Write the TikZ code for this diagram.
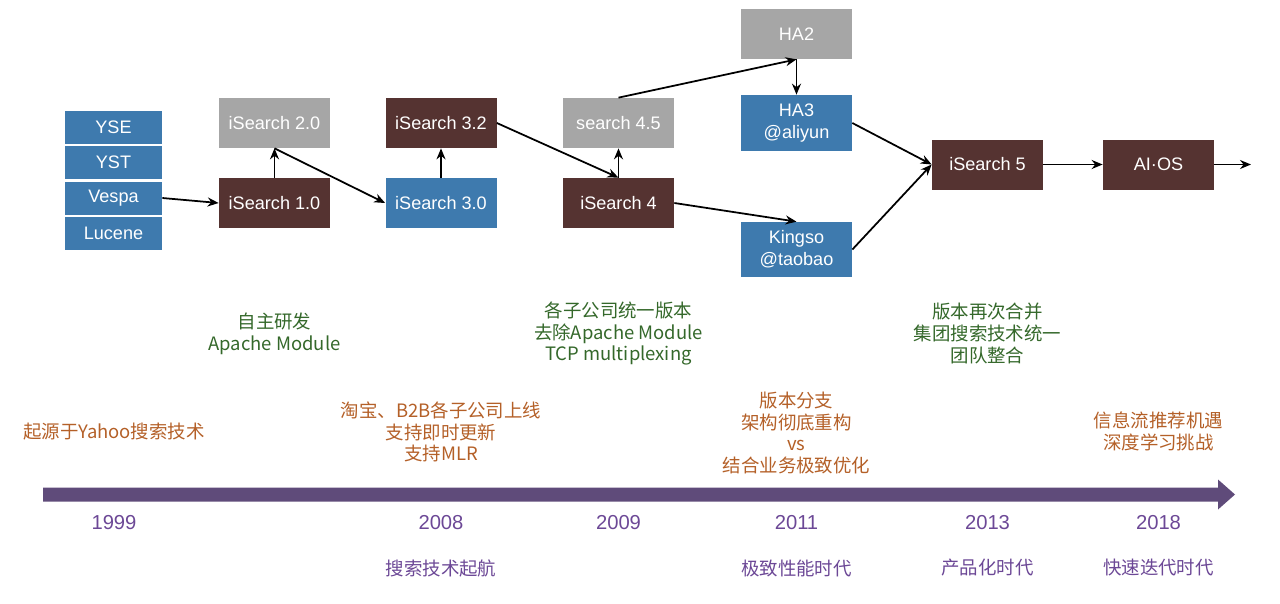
\documentclass[tikz,border=0pt]{standalone}
\usepackage{fontspec}
\setmainfont{Liberation Sans}
\newfontfamily\cjk{Noto Sans CJK SC}
\usetikzlibrary{arrows.meta}

\definecolor{boxblue}{RGB}{62,122,174}
\definecolor{boxbrown}{RGB}{85,51,49}
\definecolor{boxgray}{RGB}{166,166,166}
\definecolor{notegreen}{RGB}{52,104,42}
\definecolor{noteorange}{RGB}{180,96,40}
\definecolor{barpurple}{RGB}{95,75,122}
\definecolor{yearpurple}{RGB}{108,72,150}

\begin{document}
\begin{tikzpicture}[
    version/.style={rectangle, minimum width=2.22cm, minimum height=1cm, inner sep=1pt,
      align=center, text=white, font=\fontsize{10.3}{12.5}\selectfont},
    old version/.style={version, fill=boxgray},
    main version/.style={version, fill=boxbrown},
    branch version/.style={version, fill=boxblue},
    origin/.style={rectangle, fill=boxblue, text=white, minimum width=1.94cm,
      minimum height=0.66cm, inner sep=1pt, font=\fontsize{10.3}{12.5}\selectfont},
    flow/.style={-{Stealth[length=2.2mm, width=1.8mm]}, line width=1pt, black},
    tech note/.style={align=center, text=notegreen, font=\cjk\fontsize{10.5}{12.4}\selectfont},
    biz note/.style={align=center, text=noteorange, font=\cjk\fontsize{10.5}{12.4}\selectfont},
    year/.style={text=yearpurple, font=\fontsize{11.5}{13}\selectfont},
    era/.style={text=yearpurple, font=\cjk\fontsize{10.5}{12.5}\selectfont}
  ]
  \useasboundingbox (0,0) rectangle (25.6,-12.06);

  % Yahoo origins
  \node[origin] (Y-1) at (2.27,-2.54) {YSE};
  \node[origin] (Y-2) at (2.27,-3.25) {YST};
  \node[origin] (Y-3) at (2.27,-3.96) {Vespa};
  \node[origin] (Y-4) at (2.27,-4.67) {Lucene};

  % iSearch versions
  \node[old version] (S-20) at (5.49,-2.46) {iSearch 2.0};
  \node[main version] (S-10) at (5.49,-4.06) {iSearch 1.0};
  \node[main version] (S-32) at (8.82,-2.46) {iSearch 3.2};
  \node[branch version] (S-30) at (8.82,-4.06) {iSearch 3.0};
  \node[old version] (S-45) at (12.37,-2.46) {search 4.5};
  \node[main version] (S-4) at (12.37,-4.06) {iSearch 4};

  % Branches
  \node[old version] (HA2) at (15.93,-0.68) {HA2};
  \node[branch version, minimum height=1.12cm] (HA3) at (15.93,-2.46) {HA3\\@aliyun};
  \node[branch version, minimum height=1.1cm] (KS) at (15.93,-4.99) {Kingso\\@taobao};

  % Merged
  \node[main version] (S-5) at (19.75,-3.29) {iSearch 5};
  \node[main version] (AIOS) at (23.17,-3.29) {AI·OS};
  \coordinate (next) at (25.02,-3.29);

  % Connections
  \draw[flow] (Y-3.east) -- (S-10.west);
  \draw[flow] (S-10) -- (S-20);
  \draw[flow] (S-20.south) -- (S-30.west);
  \draw[flow] (S-30) -- (S-32);
  \draw[flow] (S-32.east) -- (S-4.north);
  \draw[flow] (S-4) -- (S-45);
  \draw[flow] (S-45.north) -- (HA2.south);
  \draw[flow] (HA2) -- (HA3);
  \draw[flow] (S-4.east) -- (KS.north);
  \foreach \b in {HA3,KS}
    \draw[flow] (\b.east) -- (S-5.west);
  \draw[flow] (S-5) -- (AIOS);
  \draw[flow] (AIOS) -- (next);

  % Technical notes
  \node[tech note] (T-1) at (5.49,-6.67) {自主研发\\Apache Module};
  \node[tech note] (T-2) at (12.37,-6.67) {各子公司统一版本\\去除Apache Module\\TCP multiplexing};
  \node[tech note] (T-3) at (19.75,-6.67) {版本再次合并\\集团搜索技术统一\\团队整合};

  % Business notes
  \node[biz note] (B-1) at (2.28,-8.64) {起源于Yahoo搜索技术};
  \node[biz note] (B-2) at (8.82,-8.64) {淘宝、B2B各子公司上线\\支持即时更新\\支持MLR};
  \node[biz note] (B-3) at (15.93,-8.66) {版本分支\\架构彻底重构\\vs\\结合业务极致优化};
  \node[biz note] (B-4) at (23.17,-8.63) {信息流推荐机遇\\深度学习挑战};

  % Timeline
  \fill[barpurple] (0.86,-9.75) -- (24.36,-9.75) -- (24.36,-9.59) -- (24.70,-9.89)
    -- (24.36,-10.19) -- (24.36,-10.03) -- (0.86,-10.03) -- cycle;

  \node[year] (y-1999) at (2.28,-10.45) {1999};
  \node[year] (y-2008) at (8.82,-10.45) {2008};
  \node[year] (y-2009) at (12.37,-10.45) {2009};
  \node[year] (y-2011) at (15.93,-10.45) {2011};
  \node[year] (y-2013) at (19.75,-10.45) {2013};
  \node[year] (y-2018) at (23.17,-10.45) {2018};

  \node[era] (e-2008) at (8.82,-11.36) {搜索技术起航};
  \node[era] (e-2011) at (15.93,-11.36) {极致性能时代};
  \node[era] (e-2013) at (19.75,-11.36) {产品化时代};
  \node[era] (e-2018) at (23.17,-11.36) {快速迭代时代};

\end{tikzpicture}
\end{document}
